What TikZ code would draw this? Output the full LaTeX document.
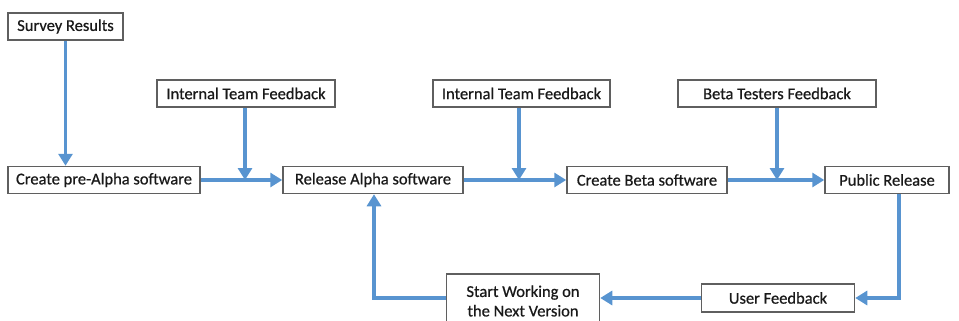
\documentclass[tikz,border=0pt]{standalone}
\usepackage{fontspec}
\setmainfont{Carlito}
\newfontfamily\boxfont{Carlito}[FakeBold=0.6]
\usetikzlibrary{arrows.meta}
\definecolor{flow}{RGB}{88,148,208}
\definecolor{boxline}{RGB}{95,95,95}
\definecolor{ink}{RGB}{25,25,25}
\tikzset{
  box/.style={draw=boxline, line width=1.5pt, fill=white, inner sep=0pt, text=ink, font=\boxfont\fontsize{16.5}{18}\selectfont},
  conn/.style={draw=flow, line width=3.2pt},
  arr/.style={conn, -{Triangle[length=12pt,width=14pt]}},
}
\begin{document}
\begin{tikzpicture}[x=1pt,y=-1pt]
\useasboundingbox (0,0) rectangle (959,321);
\clip (0,0) rectangle (959,321);
\node[box, minimum width=115pt, minimum height=27pt] (survey) at (65.5,26.5) {Survey Results};
\node[box, minimum width=178pt, minimum height=27pt] (itf1) at (246,93.5) {Internal Team Feedback};
\node[box, minimum width=177pt, minimum height=27pt] (itf2) at (521.5,93.5) {Internal Team Feedback};
\node[box, minimum width=198pt, minimum height=27pt] (btf) at (777,93.5) {Beta Testers Feedback};
\node[box, minimum width=192pt, minimum height=27pt] (pre) at (104,180) {Create pre-Alpha software};
\node[box, minimum width=180pt, minimum height=27pt] (alpha) at (373,180) {Release Alpha software};
\node[box, minimum width=160pt, minimum height=27pt] (beta) at (647,180) {Create Beta software};
\node[box, minimum width=124pt, minimum height=27pt] (pub) at (887,180) {Public Release};
\node[box, minimum width=153pt, minimum height=28pt] (user) at (778,298) {User Feedback};
\node[box, minimum width=153pt, minimum height=54pt, align=center, font=\boxfont\fontsize{16.5}{19.5}\selectfont] (next) at (523,301) {Start Working on\\the Next Version};
\coordinate (j1) at (245,180);
\coordinate (j2) at (519,180);
\coordinate (j3) at (777,180);
\draw[arr] (survey.south) -- (survey.south |- pre.north);
\draw[conn] (pre.east) -- (j1);
\draw[arr] (j1) -- (alpha.west);
\draw[arr] (itf1.south -| j1) -- (j1);
\draw[conn] (alpha.east) -- (j2);
\draw[arr] (j2) -- (beta.west);
\draw[arr] (itf2.south -| j2) -- (j2);
\draw[conn] (beta.east) -- (j3);
\draw[arr] (j3) -- (pub.west);
\draw[arr] (btf.south -| j3) -- (j3);
\coordinate (c1) at (899,298);
\draw[arr] (pub.south -| c1) -- (c1) -- (user.east);
\draw[arr] (user.west) -- (next.east |- user.west);
\coordinate (c2) at (374,298);
\draw[arr] (next.west |- c2) -- (c2) -- (alpha.south -| c2);
\end{tikzpicture}
\end{document}
